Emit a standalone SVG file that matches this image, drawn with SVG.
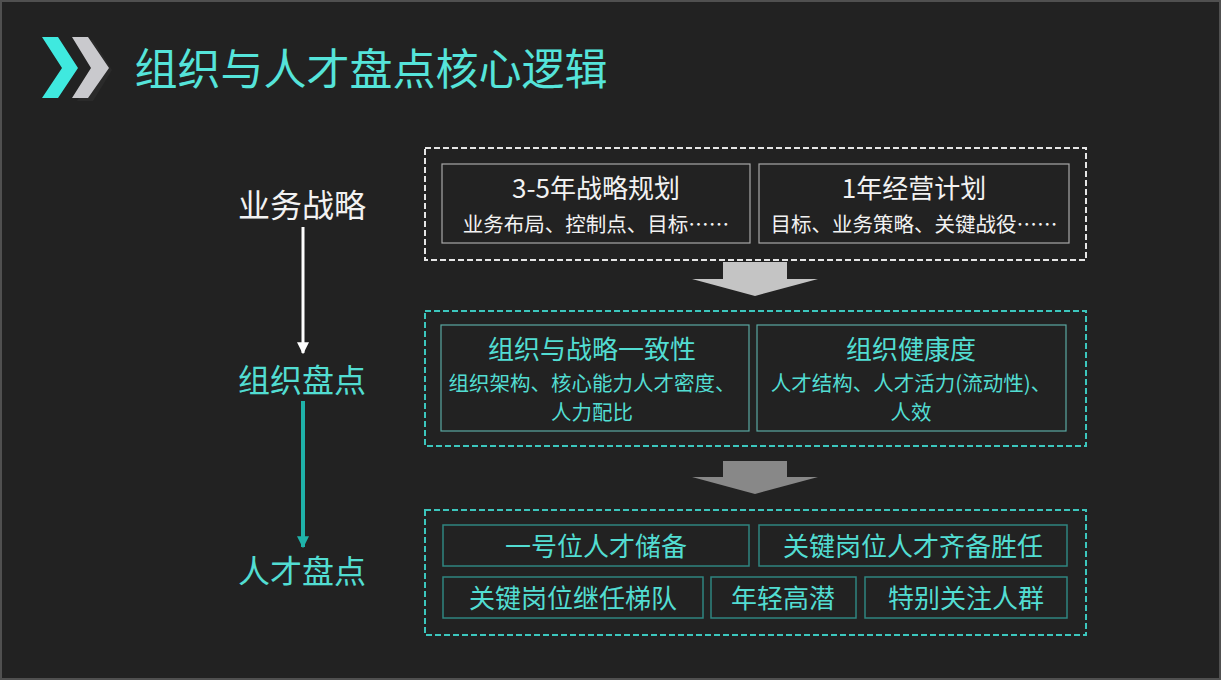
<svg xmlns="http://www.w3.org/2000/svg" width="1221" height="680" viewBox="0 0 1221 680">
<style>
text{font-family:"Noto Sans CJK SC","Microsoft YaHei",sans-serif;text-anchor:middle;dominant-baseline:central}
.h{font-size:26px}
.s{font-size:20.5px}
.w{fill:#f2f2f2}
.t{fill:#52ddd2}
.lbl{font-size:32px}
.dw{fill:none;stroke:#e6e6e6;stroke-width:2;stroke-dasharray:6 3}
.dt{fill:none;stroke:#3cc6bd;stroke-width:2;stroke-dasharray:6 3}
.bw{fill:none;stroke:#a8a8a8;stroke-width:1.2}
.bm{fill:none;stroke:#5aa8a2;stroke-width:1.2}
.bb{fill:none;stroke:#2f8580;stroke-width:1.5}
</style>
<defs>
<marker id="aw" viewBox="0 0 10 10" refX="9" refY="5" markerWidth="4" markerHeight="4" orient="auto" markerUnits="strokeWidth"><path d="M0,0 L10,5 L0,10 z" fill="#ffffff"/></marker>
<marker id="at" viewBox="0 0 10 10" refX="9" refY="5" markerWidth="3" markerHeight="3" orient="auto" markerUnits="strokeWidth"><path d="M0,0 L10,5 L0,10 z" fill="#1fb3aa"/></marker>
</defs>
<rect x="0" y="0" width="1221" height="680" fill="#222222"/>
<rect x="1" y="1" width="1219" height="678" fill="none" stroke="#505050" stroke-width="2"/>
<g id="header">
<polygon points="75,38 91,38 110,68 91,99 75,99 94,68" fill="#2a2a2a" transform="translate(2,2)"/>
<polygon points="72,37 88,37 109,68 88,98 72,98 91,68" fill="#c9c9cd"/>
<polygon points="42,37 58,37 78,68 58,98 42,98 62,68" fill="#3fe9df"/>
<text x="371" y="66" style="font-size:43px" fill="#55e4da">组织与人才盘点核心逻辑</text>
</g>
<g id="labels">
<text id="l1" class="lbl w" x="302" y="203">业务战略</text>
<text id="l2" class="lbl t" x="302" y="378" fill="#46d3c8">组织盘点</text>
<text id="l3" class="lbl t" x="302" y="569" fill="#46d3c8">人才盘点</text>
</g>
<g id="connectors">
<line x1="303" y1="227" x2="303" y2="353" stroke="#ffffff" stroke-width="3" marker-end="url(#aw)"/>
<line x1="303" y1="401" x2="303" y2="547" stroke="#1fb3aa" stroke-width="4" marker-end="url(#at)"/>
<polygon points="723,262 787,262 787,279 818,279 755,296 692,279 723,279" fill="#c4c4c4"/>
<polygon points="723,461 787,461 787,477 818,477 755,494 692,477 723,477" fill="#888888"/>
</g>
<g id="strategy">
<rect class="dw" x="425" y="148" width="661" height="112"/>
<g id="s1"><rect class="bw" x="442" y="164" width="308" height="79"/>
<text class="h w" x="596" y="186">3-5年战略规划</text>
<text class="s w" x="596" y="223">业务布局、控制点、目标……</text></g>
<g id="s2"><rect class="bw" x="759" y="164" width="310" height="79"/>
<text class="h w" x="914" y="186">1年经营计划</text>
<text class="s w" x="914" y="223">目标、业务策略、关键战役……</text></g>
</g>
<g id="org">
<rect class="dt" x="425" y="311" width="661" height="135"/>
<g id="o1"><rect class="bm" x="441" y="325" width="308" height="106"/>
<text class="h t" x="592" y="347">组织与战略一致性</text>
<text class="s t" x="592" y="382">组织架构、核心能力人才密度、</text>
<text class="s t" x="592" y="411">人力配比</text></g>
<g id="o2"><rect class="bm" x="757" y="325" width="309" height="106"/>
<text class="h t" x="911" y="347">组织健康度</text>
<text class="s t" x="911" y="382">人才结构、人才活力(流动性)、</text>
<text class="s t" x="911" y="411">人效</text></g>
</g>
<g id="talent">
<rect class="dt" x="425" y="510" width="661" height="125"/>
<g id="t1"><rect class="bb" x="443" y="525" width="306" height="41"/><text class="h t" x="596" y="544">一号位人才储备</text></g>
<g id="t2"><rect class="bb" x="759" y="525" width="308" height="41"/><text class="h t" x="913" y="544">关键岗位人才齐备胜任</text></g>
<g id="t3"><rect class="bb" x="443" y="577" width="260" height="41"/><text class="h t" x="573" y="596">关键岗位继任梯队</text></g>
<g id="t4"><rect class="bb" x="711" y="577" width="145" height="41"/><text class="h t" x="783" y="596">年轻高潜</text></g>
<g id="t5"><rect class="bb" x="865" y="577" width="202" height="41"/><text class="h t" x="966" y="596">特别关注人群</text></g>
</g>
</svg>
